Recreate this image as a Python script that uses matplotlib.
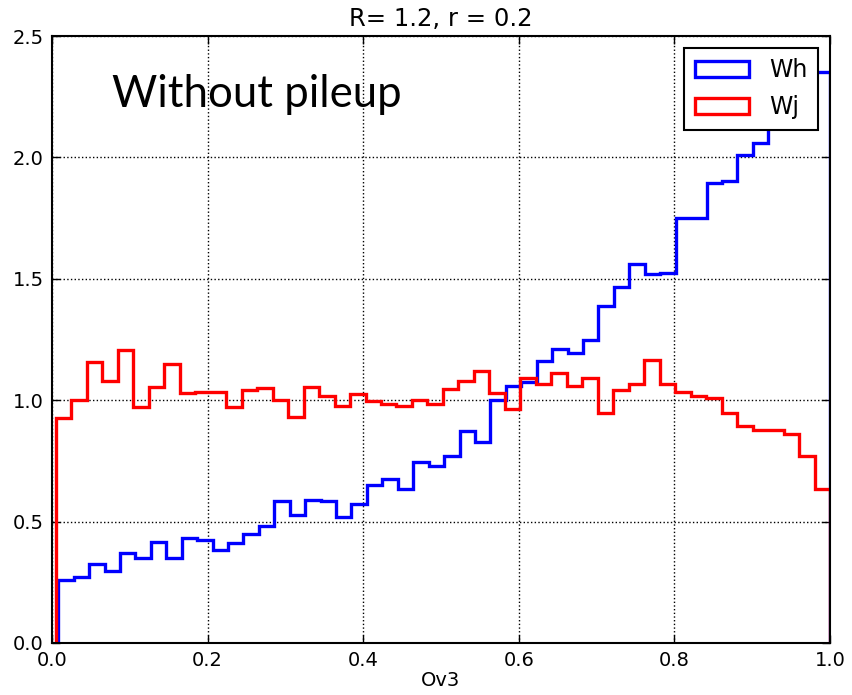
import numpy as np
import matplotlib
matplotlib.use("Agg")
import matplotlib.pyplot as plt

# Normalised Ov3 distributions, 50 bins each
wh_values = [0.260, 0.271, 0.324, 0.297, 0.370, 0.349, 0.416, 0.349, 0.433, 0.425,
             0.381, 0.411, 0.449, 0.480, 0.583, 0.528, 0.589, 0.583, 0.517, 0.572,
             0.651, 0.676, 0.635, 0.745, 0.727, 0.772, 0.874, 0.826, 1.000, 1.059,
             1.077, 1.163, 1.212, 1.194, 1.250, 1.389, 1.467, 1.563, 1.521, 1.524,
             1.749, 1.750, 1.896, 1.901, 2.008, 2.060, 2.170, 2.230, 2.290, 2.350]
wj_values = [0.926, 1.000, 1.157, 1.080, 1.208, 0.970, 1.054, 1.150, 1.029, 1.033,
             1.033, 0.970, 1.040, 1.050, 0.999, 0.930, 1.056, 1.019, 0.977, 1.025,
             0.995, 0.985, 0.977, 1.000, 0.985, 1.047, 1.081, 1.122, 1.029, 0.963,
             1.091, 1.068, 1.110, 1.059, 1.093, 0.946, 1.040, 1.067, 1.164, 1.067,
             1.033, 1.016, 1.009, 0.947, 0.893, 0.878, 0.878, 0.862, 0.769, 0.633]
wh_range = (0.008, 1.0)
wj_range = (0.005, 1.0)
n_bins = 50

x_ticks = [0.0, 0.2, 0.4, 0.6, 0.8, 1.0]
y_ticks = [0.0, 0.5, 1.0, 1.5, 2.0, 2.5]

plt.rcParams['font.family'] = ['DejaVu Sans']

fig = plt.figure(figsize=(8.52, 6.95), dpi=100)
ax = fig.add_axes([52 / 852, 1 - 643 / 695, 778 / 852, 607 / 695])

wh_edges = np.linspace(*wh_range, n_bins + 1)
wj_edges = np.linspace(*wj_range, n_bins + 1)
ax.hist(wh_edges[:-1], bins=wh_edges, weights=wh_values, histtype='step',
        color='#0000ff', linewidth=2.4, label='Wh')
ax.hist(wj_edges[:-1], bins=wj_edges, weights=wj_values, histtype='step',
        color='#ff0000', linewidth=2.4, label='Wj')

ax.set_xlim(0, 1)
ax.set_ylim(0, 2.5)
ax.set_xticks(x_ticks)
ax.set_yticks(y_ticks)
ax.tick_params(direction='in', top=True, right=True, length=6, width=1,
               labelsize=14, pad=6)
ax.grid(True, color='black', linestyle=':', linewidth=1)
for s in ax.spines.values():
    s.set_linewidth(1.5)

ax.set_title('R= 1.2, r = 0.2', fontsize=17.5, pad=7)
ax.set_xlabel('Ov3', fontsize=14, labelpad=0.5)

leg = ax.legend(loc='upper right', fontsize=17, handlelength=2.3,
                handletextpad=0.85, borderpad=0.45, labelspacing=0.55,
                fancybox=False, framealpha=1, borderaxespad=0.5)
leg.get_frame().set_edgecolor('black')
leg.get_frame().set_linewidth(1.5)

ax.text(0.077, 0.903, 'Without pileup', transform=ax.transAxes,
        fontsize=31.5, family=['Lato', 'DejaVu Sans'], va='center', ha='left')

fig.savefig('out.png', dpi=100)
